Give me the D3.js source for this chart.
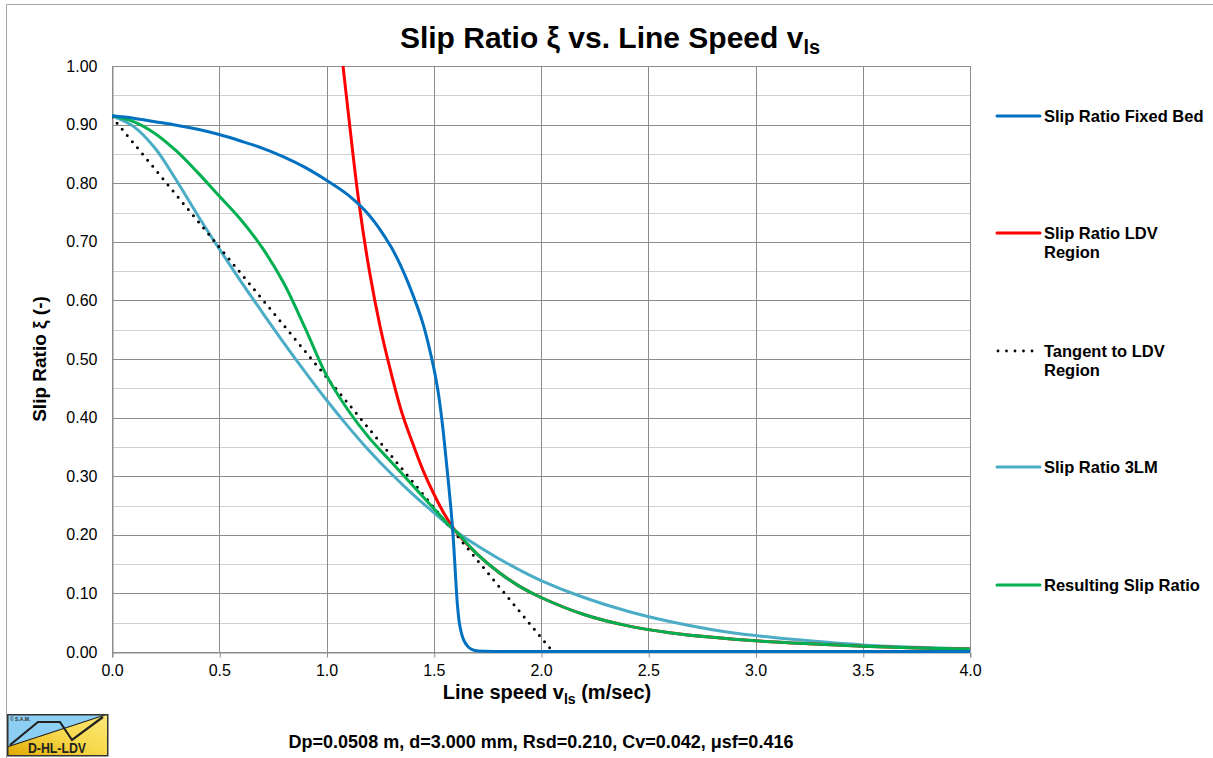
<!DOCTYPE html>
<html>
<head>
<meta charset="utf-8">
<script src="https://cdn.jsdelivr.net/npm/d3@7"></script>
<style>
  body { margin: 0; background: #fff; }
  svg { display: block; font-family: "Liberation Sans", Arial, sans-serif; }
</style>
</head>
<body>
<svg id="chart" width="1213" height="758"></svg>
<script>
// ---- data ----
const fixedBedV  = [0, 0.1, 0.2, 0.3, 0.4, 0.5, 0.6, 0.7, 0.8, 0.9, 1.0, 1.1, 1.2, 1.3, 1.35, 1.4, 1.45, 1.5, 1.52, 1.54, 1.56, 1.58, 1.59, 1.6, 1.61, 1.62, 1.63, 1.64, 1.66, 1.68, 1.7, 2.0, 2.5, 3.0, 3.5, 4.0];
const fixedBedXi = [0.915, 0.911, 0.905, 0.899, 0.892, 0.883, 0.872, 0.86, 0.845, 0.827, 0.805, 0.78, 0.745, 0.692, 0.656, 0.612, 0.56, 0.485, 0.445, 0.39, 0.32, 0.245, 0.2, 0.14, 0.082, 0.048, 0.031, 0.02, 0.009, 0.004, 0.002, 0.001, 0.001, 0.001, 0.001, 0.001];

const ldvV  = [1.077, 1.1, 1.15, 1.2, 1.25, 1.3, 1.35, 1.4, 1.45, 1.5, 1.55, 1.6, 1.7, 1.8, 1.9, 2.0, 2.2, 2.4, 2.6, 2.8, 3.0, 3.25, 3.5, 3.75, 4.0];
const ldvXi = [1.0, 0.925, 0.77, 0.65, 0.555, 0.478, 0.41, 0.358, 0.31, 0.27, 0.235, 0.207, 0.168, 0.137, 0.112, 0.093, 0.064, 0.045, 0.033, 0.025, 0.019, 0.014, 0.01, 0.007, 0.005];

const tangentV  = [0.0, 2.056];
const tangentXi = [0.913, 0.0];

const lm3V  = [0, 0.1, 0.2, 0.3, 0.4, 0.5, 0.6, 0.7, 0.8, 0.9, 1.0, 1.1, 1.2, 1.3, 1.4, 1.5, 1.6, 1.7, 1.8, 1.9, 2.0, 2.2, 2.4, 2.6, 2.8, 3.0, 3.25, 3.5, 3.75, 4.0];
const lm3Xi = [0.915, 0.897, 0.86, 0.805, 0.745, 0.688, 0.633, 0.58, 0.528, 0.478, 0.43, 0.385, 0.343, 0.305, 0.27, 0.238, 0.207, 0.182, 0.16, 0.14, 0.122, 0.093, 0.07, 0.052, 0.038, 0.028, 0.019, 0.012, 0.008, 0.005];

const resultV  = [0, 0.1, 0.2, 0.3, 0.4, 0.5, 0.6, 0.7, 0.8, 0.9, 1.0, 1.1, 1.2, 1.3, 1.4, 1.5, 1.58, 1.6, 1.7, 1.8, 1.9, 2.0, 2.2, 2.4, 2.6, 2.8, 3.0, 3.25, 3.5, 3.75, 4.0];
const resultXi = [0.915, 0.905, 0.885, 0.855, 0.818, 0.778, 0.738, 0.69, 0.63, 0.553, 0.472, 0.413, 0.365, 0.325, 0.285, 0.245, 0.213, 0.207, 0.168, 0.137, 0.112, 0.093, 0.064, 0.045, 0.033, 0.025, 0.019, 0.014, 0.01, 0.007, 0.005];

const xTicks = [0, 0.5, 1.0, 1.5, 2.0, 2.5, 3.0, 3.5, 4.0];
const yTicks = [0, 0.1, 0.2, 0.3, 0.4, 0.5, 0.6, 0.7, 0.8, 0.9, 1.0];
const yMinor = [0.05, 0.15, 0.25, 0.35, 0.45, 0.55, 0.65, 0.75, 0.85, 0.95];

const seriesNames = ["Slip Ratio Fixed Bed", "Slip Ratio LDV Region", "Tangent to LDV Region", "Slip Ratio 3LM", "Resulting Slip Ratio"];

// ---- drawing ----
const svg = d3.select("#chart");
const pL = 112, pR = 970, pT = 66, pB = 652;
const x = d3.scaleLinear().domain([0, 4]).range([pL, pR]);
const y = d3.scaleLinear().domain([0, 1]).range([pB, pT]);

// outer border (left and top edges visible)
svg.append("path").attr("d", "M6.5,758 L6.5,4.5 L1213,4.5")
  .attr("fill", "none").attr("stroke", "#a6a6a6").attr("stroke-width", 1);

const grid = svg.append("g");
grid.selectAll(".minor").data(yMinor).enter().append("line")
  .attr("x1", pL).attr("x2", pR)
  .attr("y1", d => Math.round(y(d)) + 0.5).attr("y2", d => Math.round(y(d)) + 0.5)
  .attr("stroke", "#d0d0d0").attr("stroke-width", 1);
grid.selectAll(".major").data(yTicks).enter().append("line")
  .attr("x1", pL).attr("x2", pR)
  .attr("y1", d => Math.round(y(d)) + 0.5).attr("y2", d => Math.round(y(d)) + 0.5)
  .attr("stroke", "#8c8c8c").attr("stroke-width", 1);
grid.selectAll(".vert").data(xTicks).enter().append("line")
  .attr("y1", pT).attr("y2", pB)
  .attr("x1", d => Math.round(x(d)) + 0.5).attr("x2", d => Math.round(x(d)) + 0.5)
  .attr("stroke", "#8c8c8c").attr("stroke-width", 1);

// axes
const xAxis = d3.axisBottom(x).tickValues(xTicks).tickFormat(d3.format(".1f")).tickSize(5).tickPadding(7);
const gx = svg.append("g").attr("transform", `translate(0,${Math.round(pB) + 0.5})`).call(xAxis);
gx.select(".domain").attr("stroke", "#8c8c8c");
gx.selectAll(".tick line").attr("stroke", "#8c8c8c").attr("transform", "translate(0.5,0)");
gx.selectAll("text").attr("font-size", 16).attr("fill", "#000").attr("font-family", "Liberation Sans, Arial, sans-serif");

const yAxis = d3.axisLeft(y).tickValues(yTicks).tickFormat(d3.format(".2f")).tickSize(0).tickPadding(15);
const gy = svg.append("g").attr("transform", `translate(${pL + 0.5},0)`).call(yAxis);
gy.select(".domain").attr("stroke", "#8c8c8c");
gy.selectAll("text").attr("font-size", 16).attr("fill", "#000").attr("font-family", "Liberation Sans, Arial, sans-serif");

// curves
const mk = (vs, xs) => vs.map((v, i) => [v, xs[i]]);
const line = d3.line().x(d => x(d[0])).y(d => y(d[1])).curve(d3.curveCatmullRom.alpha(0.5));
const lineLin = d3.line().x(d => x(d[0])).y(d => y(d[1]));
svg.append("clipPath").attr("id", "clip").append("rect")
  .attr("x", pL).attr("y", pT - 1).attr("width", pR - pL + 2).attr("height", pB - pT + 2);
const plot = svg.append("g").attr("clip-path", "url(#clip)");

plot.append("path").datum(mk(lm3V, lm3Xi)).attr("d", line)
  .attr("fill", "none").attr("stroke", "#4BACC6").attr("stroke-width", 3);
plot.append("path").datum(mk(ldvV, ldvXi)).attr("d", line)
  .attr("fill", "none").attr("stroke", "#FF0000").attr("stroke-width", 3);
plot.append("path").datum(mk(tangentV, tangentXi)).attr("d", lineLin)
  .attr("fill", "none").attr("stroke", "#000").attr("stroke-width", 3)
  .attr("stroke-linecap", "round").attr("stroke-dasharray", "0,8");
plot.append("path").datum(mk(resultV, resultXi)).attr("d", line)
  .attr("fill", "none").attr("stroke", "#00B050").attr("stroke-width", 3);
plot.append("path").datum(mk(fixedBedV, fixedBedXi)).attr("d", line)
  .attr("fill", "none").attr("stroke", "#0070C0").attr("stroke-width", 3);

// title
const title = svg.append("text").attr("x", 610).attr("y", 48).attr("text-anchor", "middle")
  .attr("font-size", 30).attr("font-weight", "bold");
title.append("tspan").text("Slip Ratio ξ vs. Line Speed v");
title.append("tspan").attr("font-size", 20).attr("dy", 6).text("ls");

// x axis title
const xt = svg.append("text").attr("x", 547).attr("y", 699).attr("text-anchor", "middle")
  .attr("font-size", 20).attr("font-weight", "bold");
xt.append("tspan").text("Line speed v");
xt.append("tspan").attr("font-size", 14).attr("dy", 5).text("ls");
xt.append("tspan").attr("dy", -5).text(" (m/sec)");

// y axis title
svg.append("text").attr("transform", "translate(46,359) rotate(-90)").attr("text-anchor", "middle")
  .attr("font-size", 19).attr("font-weight", "bold").text("Slip Ratio ξ (-)");

// legend
const legendItems = [
  { lines: ["Slip Ratio Fixed Bed"], color: "#0070C0", y: 116, dash: null },
  { lines: ["Slip Ratio LDV", "Region"], color: "#FF0000", y: 233, dash: null },
  { lines: ["Tangent to LDV", "Region"], color: "#000", y: 351, dash: "0,8.5" },
  { lines: ["Slip Ratio 3LM"], color: "#4BACC6", y: 467, dash: null },
  { lines: ["Resulting Slip Ratio"], color: "#00B050", y: 585, dash: null }
];
const lg = svg.append("g");
legendItems.forEach((it, i) => {
  const ln = lg.append("line").attr("x1", 997).attr("x2", 1040).attr("y1", it.y).attr("y2", it.y)
    .attr("stroke", it.color).attr("stroke-width", 3).attr("stroke-linecap", "round");
  if (it.dash) ln.attr("stroke-dasharray", it.dash).attr("x1", 998).attr("stroke-width", 2.8);
  const t = lg.append("text").attr("x", 1044).attr("y", it.y + 6).attr("font-size", 16.5).attr("font-weight", "bold");
  it.lines.forEach((s, j) => t.append("tspan").attr("x", 1044).attr("dy", j === 0 ? 0 : 19).text(s));
});

// footer
svg.append("text").attr("x", 541).attr("y", 748).attr("text-anchor", "middle")
  .attr("font-size", 18).attr("font-weight", "bold")
  .text("Dp=0.0508 m, d=3.000 mm, Rsd=0.210, Cv=0.042, μsf=0.416");

// logo
const logo = svg.append("g").attr("transform", "translate(7,714)");
const grad = svg.append("defs").append("linearGradient").attr("id", "lgy").attr("x1", "0").attr("y1", "1").attr("x2", "1").attr("y2", "0");
grad.append("stop").attr("offset", "0").attr("stop-color", "#E0A800");
grad.append("stop").attr("offset", "0.5").attr("stop-color", "#F7D84A");
grad.append("stop").attr("offset", "1").attr("stop-color", "#FBE879");
logo.append("rect").attr("x", 0).attr("y", 0).attr("width", 101).attr("height", 42).attr("fill", "url(#lgy)");
logo.append("polygon").attr("points", "0,0 101,0 98,1 0,33").attr("fill", "#8DCFF2");
logo.append("line").attr("x1", 0).attr("y1", 33).attr("x2", 98).attr("y2", 1).attr("stroke", "#222").attr("stroke-width", 1.2);
logo.append("polyline").attr("points", "3,31 31,8 53,8 65,26 96,3").attr("fill", "none").attr("stroke", "#222").attr("stroke-width", 2.2);
logo.append("rect").attr("x", 0.75).attr("y", 0.75).attr("width", 100).attr("height", 41).attr("fill", "none").attr("stroke", "#333").attr("stroke-width", 1.5);
logo.append("text").attr("x", 3).attr("y", 7).attr("font-size", 5).attr("font-weight", "bold").attr("fill", "#333").text("© S.A.M.");
logo.append("text").attr("x", 21).attr("y", 39).attr("font-size", 15).attr("font-weight", "bold").attr("fill", "#222")
  .attr("textLength", 58).attr("lengthAdjust", "spacingAndGlyphs").text("D-HL-LDV");
</script>
</body>
</html>
